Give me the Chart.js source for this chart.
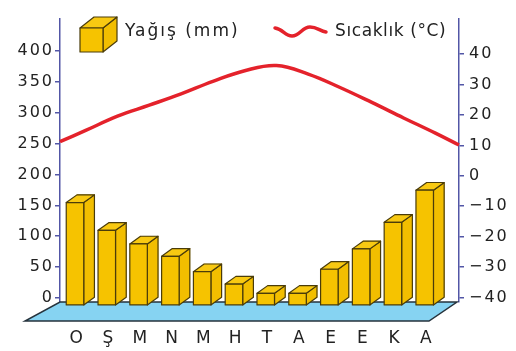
<!DOCTYPE html>
<html>
<head>
<meta charset="utf-8">
<script src="https://cdn.jsdelivr.net/npm/chart.js@4/dist/chart.umd.min.js"></script>
<style>
  html, body { margin: 0; padding: 0; background: #fff; }
  #wrap { width: 516px; height: 351px; }
</style>
</head>
<body>
<div id="wrap"><canvas id="chart" width="516" height="351"></canvas></div>
<script>
// data
const months = ['O', 'Ş', 'M', 'N', 'M', 'H', 'T', 'A', 'E', 'E', 'K', 'A'];
const rainfall = [167, 122, 100, 80, 55, 35, 20, 20, 59, 92, 135, 187];
const temperature = [14.9, 19.6, 23.2, 26.9, 31.0, 34.5, 36.2, 33.4, 29.0, 24.1, 19.0, 14.0];
const tempAtEdges = [11.2, 10.1];
const rainTicks = [0, 50, 100, 150, 200, 250, 300, 350, 400];
const tempTicks = [-40, -30, -20, -10, 0, 10, 20, 30, 40];
const legendLabels = ['Yağış (mm)', 'Sıcaklık (°C)'];

const axisColor = '#5256a6';
const textColor = '#222';
const font = '"DejaVu Sans", sans-serif';
const xMin = -0.808, xMax = 11.742;

const depth = { x: 10.7, y: 7.7 };

function poly(ctx, pts, fill) {
    ctx.beginPath();
    ctx.moveTo(pts[0][0], pts[0][1]);
    for (let i = 1; i < pts.length; i++) ctx.lineTo(pts[i][0], pts[i][1]);
    ctx.closePath();
    ctx.fillStyle = fill;
    ctx.fill();
    ctx.stroke();
}

// spacing of the letters like in the picture
const spacing = {
    id: 'spacing',
    beforeUpdate(chart) { chart.ctx.letterSpacing = '2px'; },
    beforeDraw(chart) { chart.ctx.letterSpacing = '2px'; }
};

// floor and 3d boxes
const box3d = {
    id: 'box3d',
    beforeDatasetsDraw(chart) {
        const { ctx, chartArea: a } = chart;
        ctx.save();
        ctx.strokeStyle = '#26333d';
        ctx.lineWidth = 1.5;
        poly(ctx, [[a.left, a.bottom], [a.right - 2, a.bottom], [a.right - 30, a.bottom + 19], [a.left - 35, a.bottom + 19]], '#86d3f2');
        ctx.restore();
    },
    afterDatasetDraw(chart, args) {
        if (args.index !== 0) return;
        const ctx = chart.ctx;
        ctx.save();
        ctx.lineJoin = 'round';
        ctx.lineWidth = 1.2;
        ctx.strokeStyle = '#4a3c0a';
        args.meta.data.forEach(bar => {
            const p = bar.getProps(['x', 'y', 'base', 'width'], true);
            const l = p.x - p.width / 2, r = p.x + p.width / 2;
            const fl = l - depth.x, fr = r - depth.x;
            const ft = p.y + depth.y, fb = p.base + depth.y;
            poly(ctx, [[fr, ft], [r, p.y], [r, p.base], [fr, fb]], '#f2be00');
            poly(ctx, [[fl, ft], [l, p.y], [r, p.y], [fr, ft]], '#f8c912');
            poly(ctx, [[fl, ft], [fr, ft], [fr, fb], [fl, fb]], '#f6c300');
        });
        ctx.restore();
    }
};

// legend with cube and wave
const legend3d = {
    id: 'legend3d',
    afterDraw(chart) {
        const ctx = chart.ctx;
        ctx.save();
        ctx.lineJoin = 'round';
        ctx.lineWidth = 1.2;
        ctx.strokeStyle = '#4a3c0a';
        poly(ctx, [[103, 28], [117, 17], [117, 41], [103, 52]], '#f2be00');
        poly(ctx, [[80, 28], [94, 17], [117, 17], [103, 28]], '#f8c912');
        poly(ctx, [[80, 28], [103, 28], [103, 52], [80, 52]], '#f6c300');

        ctx.beginPath();
        ctx.moveTo(275, 28);
        ctx.bezierCurveTo(283, 29, 285, 36, 292, 36);
        ctx.bezierCurveTo(300, 36, 302, 27, 310, 27);
        ctx.bezierCurveTo(317, 27, 320, 31, 326, 32);
        ctx.strokeStyle = '#e4222b';
        ctx.lineWidth = 3.5;
        ctx.lineCap = 'round';
        ctx.stroke();

        ctx.fillStyle = textColor;
        ctx.font = '17px ' + font;
        ctx.textBaseline = 'middle';
        ctx.letterSpacing = '2px';
        ctx.fillText(legendLabels[0], 125, 32);
        ctx.letterSpacing = '0.6px';
        ctx.fillText(legendLabels[1], 335, 32);
        ctx.restore();
    }
};

new Chart(document.getElementById('chart'), {
    type: 'bar',
    data: {
        datasets: [
            {
                label: legendLabels[0],
                data: rainfall.map((v, i) => ({ x: i, y: v })),
                yAxisID: 'yRain',
                backgroundColor: '#f6c300',
                borderWidth: 0,
                barThickness: 17.5,
                order: 2
            },
            {
                type: 'line',
                label: legendLabels[1],
                data: [{ x: xMin, y: tempAtEdges[0] }]
                    .concat(temperature.map((v, i) => ({ x: i, y: v })))
                    .concat([{ x: xMax, y: tempAtEdges[1] }]),
                yAxisID: 'yTemp',
                borderColor: '#e4222b',
                borderWidth: 3.5,
                pointRadius: 0,
                tension: 0.4,
                clip: false,
                order: 1
            }
        ]
    },
    options: {
        responsive: false,
        animation: false,
        layout: { padding: { top: 19 } },
        plugins: { legend: { display: false }, tooltip: { enabled: false } },
        scales: {
            x: {
                type: 'linear',
                min: xMin,
                max: xMax,
                offset: false,
                grid: { display: false },
                border: { display: false },
                afterBuildTicks: s => { s.ticks = months.map((m, i) => ({ value: i })); },
                afterFit: s => { s.height = 49; },
                ticks: {
                    callback: v => months[v],
                    autoSkip: false,
                    maxRotation: 0,
                    padding: 18,
                    labelOffset: -8.5,
                    color: textColor,
                    font: { family: font, size: 17 }
                }
            },
            yRain: {
                position: 'left',
                min: -6.5,
                max: 451.8,
                border: { color: axisColor, width: 1.5 },
                grid: { drawOnChartArea: false, color: axisColor, tickLength: 5, lineWidth: 1.5 },
                afterBuildTicks: s => { s.ticks = rainTicks.map(v => ({ value: v })); },
                afterFit: s => { s.width = 60; },
                ticks: {
                    padding: 1,
                    color: textColor,
                    font: { family: font, size: 16 }
                }
            },
            yTemp: {
                position: 'right',
                min: -41.45,
                max: 51.5,
                border: { color: axisColor, width: 1.5 },
                grid: { drawOnChartArea: false, color: axisColor, tickLength: 5, lineWidth: 1.5 },
                afterBuildTicks: s => { s.ticks = tempTicks.map(v => ({ value: v })); },
                afterFit: s => { s.width = 57; },
                ticks: {
                    padding: 5,
                    color: textColor,
                    callback: v => v < 0 ? '−' + Math.abs(v) : String(v),
                    font: { family: font, size: 16 }
                }
            }
        }
    },
    plugins: [spacing, box3d, legend3d]
});
</script>
</body>
</html>
